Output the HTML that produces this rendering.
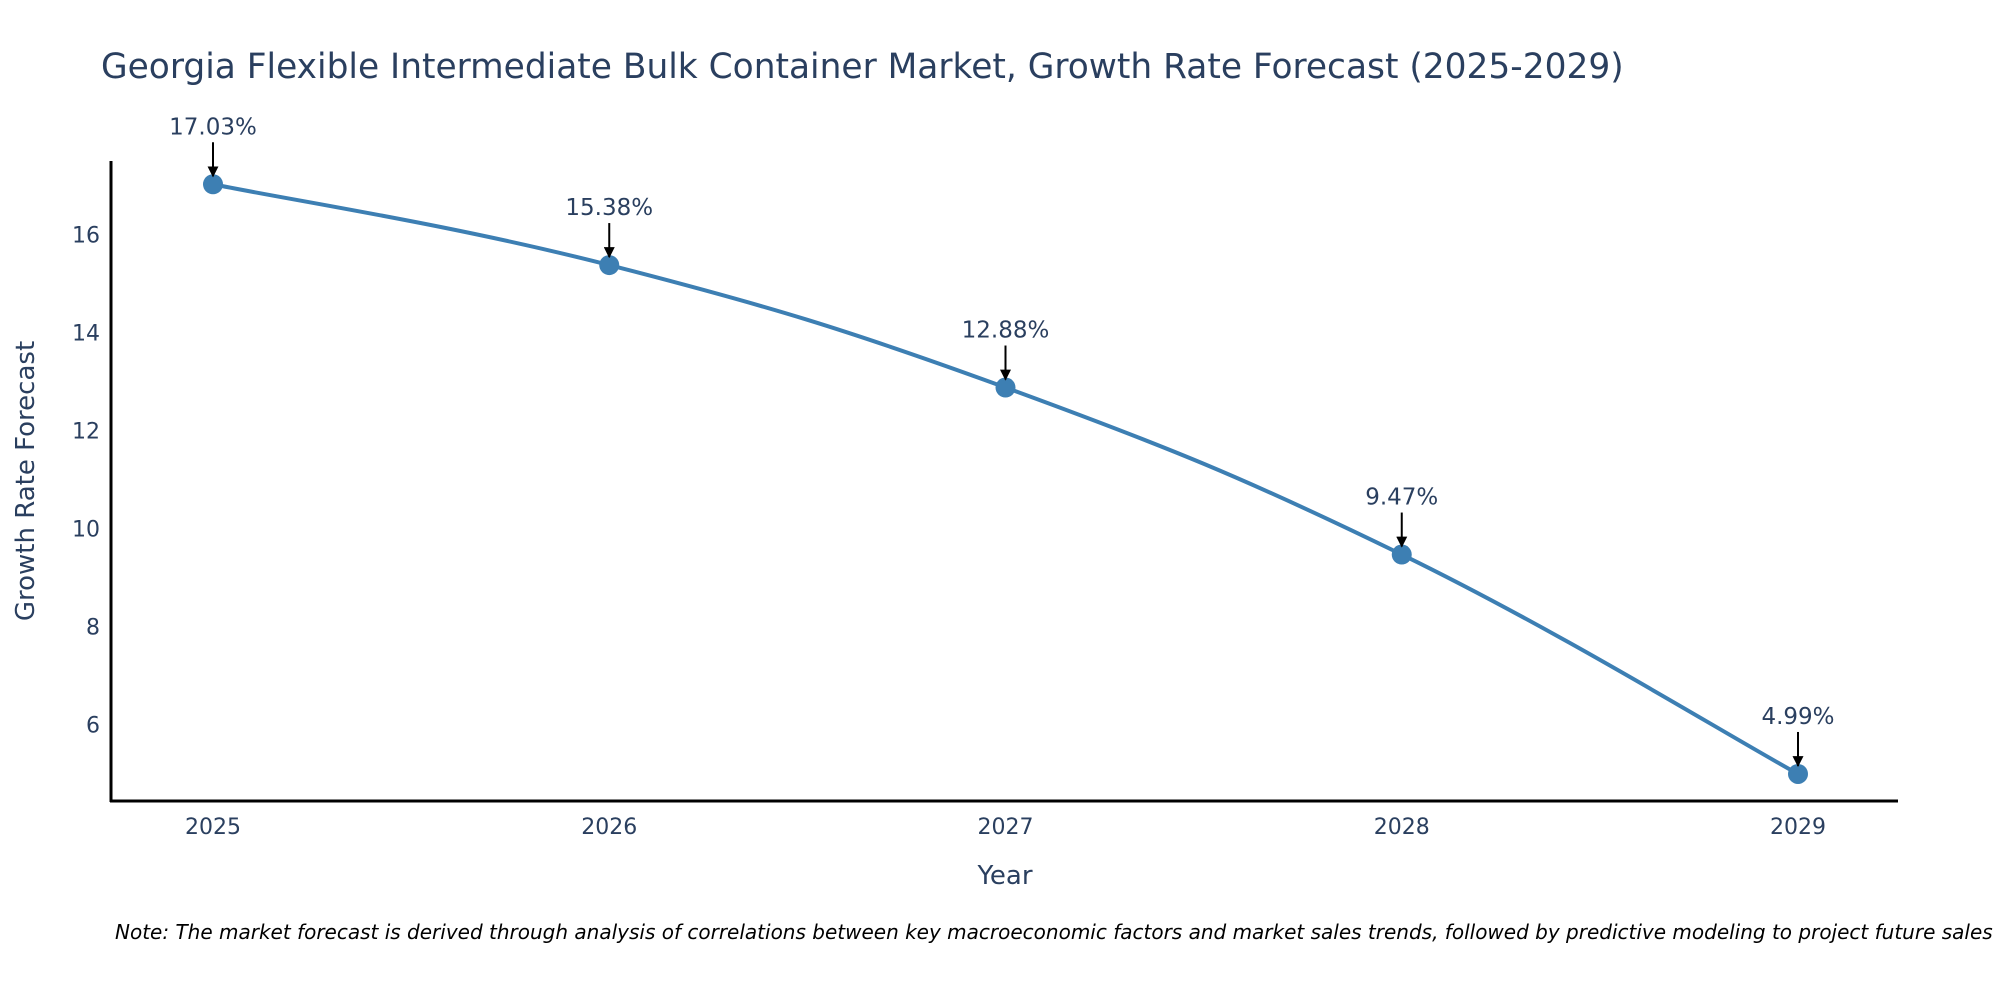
<!DOCTYPE html>
<html><head><meta charset="utf-8">
<style>
html,body{margin:0;padding:0;background:#fff;}
svg{display:block;font-family:"DejaVu Sans","Liberation Sans",sans-serif;}
</style></head>
<body>
<svg id="chart" width="2000" height="1000" viewBox="0 0 2000 1000">
<defs>
<marker id="ah" viewBox="0 0 10 10" refX="9" refY="5" markerWidth="11" markerHeight="11" markerUnits="userSpaceOnUse" orient="auto"><path d="M0,0 L10,5 L0,10 z" fill="#000"/></marker>
</defs>
<text x="101" y="78" font-size="34.4" fill="#2a3f5f">Georgia Flexible Intermediate Bulk Container Market, Growth Rate Forecast (2025-2029)</text>
<g id="yticks"></g>
<g id="xticks"></g>
<line x1="111" y1="161" x2="111" y2="802" stroke="#000" stroke-width="3"/>
<line x1="110" y1="801" x2="1898" y2="801" stroke="#000" stroke-width="3"/>
<path id="line" fill="none" stroke="#3d7fb3" stroke-width="4"/>
<g id="marks"></g>
<text x="1005" y="884" font-size="26" fill="#2a3f5f" text-anchor="middle">Year</text>
<text transform="translate(34,481) rotate(-90)" font-size="26" fill="#2a3f5f" text-anchor="middle">Growth Rate Forecast</text>
<text x="115" y="939" font-size="20" font-style="italic" fill="#000">Note: The market forecast is derived through analysis of correlations between key macroeconomic factors and market sales trends, followed by predictive modeling to project future sales</text>
</svg>
<script>
const years = [2025, 2026, 2027, 2028, 2029];
const values = [17.03, 15.38, 12.88, 9.47, 4.99];
const labels = ["17.03%", "15.38%", "12.88%", "9.47%", "4.99%"];
const yTickValues = [6, 8, 10, 12, 14, 16];

const NS = "http://www.w3.org/2000/svg";
function xs(yr){ return 213 + (yr - 2025) * 396.25; }
function ys(v){ return 724.5 - (v - 6) * 48.98; }
function mk(tag, attrs){ const e = document.createElementNS(NS, tag); for (const k in attrs) e.setAttribute(k, attrs[k]); return e; }

const yg = document.getElementById('yticks');
yTickValues.forEach(v => {
  const t = mk('text', {x: 100, y: ys(v) + 8, 'font-size': 22, fill: '#2a3f5f', 'text-anchor': 'end'});
  
  
  t.textContent = v; yg.appendChild(t);
});
const xg = document.getElementById('xticks');
years.forEach(yr => {
  const t = mk('text', {x: xs(yr), y: 834, 'font-size': 22, fill: '#2a3f5f', 'text-anchor': 'middle'});
  
  
  t.textContent = yr; xg.appendChild(t);
});

const pts = years.map((yr, i) => [xs(yr), ys(values[i])]);
let d = `M${pts[0][0]},${pts[0][1]}`;
const s = 0.6 / 3;
for (let i = 0; i < pts.length - 1; i++) {
  const p0 = pts[Math.max(0, i - 1)], p1 = pts[i], p2 = pts[i + 1], p3 = pts[Math.min(pts.length - 1, i + 2)];
  const c1 = [p1[0] + (p2[0] - p0[0]) * s, p1[1] + (p2[1] - p0[1]) * s];
  const c2 = [p2[0] - (p3[0] - p1[0]) * s, p2[1] - (p3[1] - p1[1]) * s];
  d += ` C${c1[0]},${c1[1]} ${c2[0]},${c2[1]} ${p2[0]},${p2[1]}`;
}
document.getElementById('line').setAttribute('d', d);

const mg = document.getElementById('marks');
pts.forEach((p, i) => {
  const c = mk('circle', {cx: p[0], cy: p[1], r: 10, fill: '#3d7fb3'});
  
  
  mg.appendChild(c);
  const a = mk('line', {x1: p[0], y1: p[1] - 42, x2: p[0], y2: p[1] - 8, stroke: '#000', 'stroke-width': 2, 'marker-end': 'url(#ah)'});
  
  
  mg.appendChild(a);
  const t = mk('text', {x: p[0], y: p[1] - 50, 'font-size': 23, fill: '#2a3f5f', 'text-anchor': 'middle'});
  
  
  t.textContent = labels[i]; mg.appendChild(t);
});
</script>
</body></html>
